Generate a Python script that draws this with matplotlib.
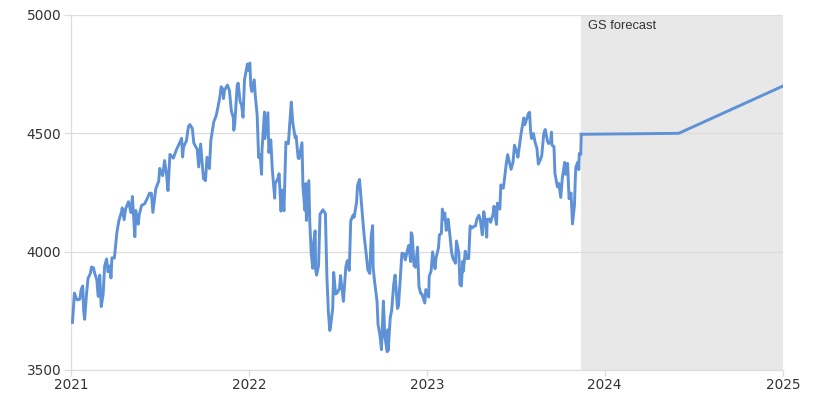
import matplotlib
matplotlib.use("Agg")
import matplotlib.pyplot as plt
import pandas as pd

# S&P 500 history
hist_dates = [
    "2021-01-04", "2021-01-08", "2021-01-12", "2021-01-14", "2021-01-19", "2021-01-22", "2021-01-25", "2021-01-27",
    "2021-01-29", "2021-02-02", "2021-02-05", "2021-02-10", "2021-02-12", "2021-02-16", "2021-02-19", "2021-02-23",
    "2021-02-25", "2021-02-26", "2021-03-01", "2021-03-04", "2021-03-08", "2021-03-11", "2021-03-15", "2021-03-18",
    "2021-03-22", "2021-03-24", "2021-03-26", "2021-03-31", "2021-04-05", "2021-04-09", "2021-04-15", "2021-04-16",
    "2021-04-20", "2021-04-23", "2021-04-29", "2021-05-04", "2021-05-07", "2021-05-12", "2021-05-14", "2021-05-19",
    "2021-05-21", "2021-05-26", "2021-06-01", "2021-06-07", "2021-06-11", "2021-06-15", "2021-06-18", "2021-06-24",
    "2021-06-30", "2021-07-02", "2021-07-08", "2021-07-12", "2021-07-16", "2021-07-19", "2021-07-23", "2021-07-27",
    "2021-07-30", "2021-08-05", "2021-08-12", "2021-08-16", "2021-08-18", "2021-08-20", "2021-08-26", "2021-08-30",
    "2021-09-02", "2021-09-07", "2021-09-10", "2021-09-14", "2021-09-17", "2021-09-20", "2021-09-24", "2021-09-28",
    "2021-09-30", "2021-10-04", "2021-10-07", "2021-10-12", "2021-10-15", "2021-10-21", "2021-10-26", "2021-10-29",
    "2021-11-03", "2021-11-05", "2021-11-09", "2021-11-10", "2021-11-12", "2021-11-18", "2021-11-22", "2021-11-26",
    "2021-11-30", "2021-12-01", "2021-12-03", "2021-12-08", "2021-12-10", "2021-12-14", "2021-12-17", "2021-12-20",
    "2021-12-23", "2021-12-29", "2021-12-31",
    "2022-01-03", "2022-01-05", "2022-01-07", "2022-01-12", "2022-01-14", "2022-01-18", "2022-01-21", "2022-01-24",
    "2022-01-27", "2022-01-28", "2022-02-02", "2022-02-03", "2022-02-09", "2022-02-11", "2022-02-15", "2022-02-18",
    "2022-02-23", "2022-02-24", "2022-03-01", "2022-03-04", "2022-03-08", "2022-03-10", "2022-03-14", "2022-03-18",
    "2022-03-23", "2022-03-29", "2022-04-01", "2022-04-06", "2022-04-08", "2022-04-12", "2022-04-14", "2022-04-20",
    "2022-04-22", "2022-04-26", "2022-04-28", "2022-04-29", "2022-05-04", "2022-05-06", "2022-05-09", "2022-05-12",
    "2022-05-13", "2022-05-17", "2022-05-18", "2022-05-20", "2022-05-24", "2022-05-27", "2022-06-02", "2022-06-07",
    "2022-06-10", "2022-06-13", "2022-06-16", "2022-06-17", "2022-06-22", "2022-06-24", "2022-06-28", "2022-07-01",
    "2022-07-06", "2022-07-08", "2022-07-14", "2022-07-19", "2022-07-22", "2022-07-26", "2022-07-29", "2022-08-03",
    "2022-08-05", "2022-08-10", "2022-08-12", "2022-08-16", "2022-08-19", "2022-08-23", "2022-08-26", "2022-08-30",
    "2022-09-02", "2022-09-06", "2022-09-09", "2022-09-12", "2022-09-13", "2022-09-16", "2022-09-21", "2022-09-23",
    "2022-09-27", "2022-09-30", "2022-10-04", "2022-10-07", "2022-10-12", "2022-10-13", "2022-10-14", "2022-10-18",
    "2022-10-21", "2022-10-25", "2022-10-28", "2022-11-02", "2022-11-04", "2022-11-10", "2022-11-11", "2022-11-15",
    "2022-11-18", "2022-11-22", "2022-11-25", "2022-11-29", "2022-11-30", "2022-12-02", "2022-12-06", "2022-12-09",
    "2022-12-13", "2022-12-16", "2022-12-20", "2022-12-22", "2022-12-28", "2022-12-30",
    "2023-01-05", "2023-01-06", "2023-01-10", "2023-01-13", "2023-01-18", "2023-01-20", "2023-01-25", "2023-01-27",
    "2023-01-31", "2023-02-02", "2023-02-03", "2023-02-07", "2023-02-10", "2023-02-14", "2023-02-17", "2023-02-21",
    "2023-02-24", "2023-03-01", "2023-03-03", "2023-03-08", "2023-03-10", "2023-03-13", "2023-03-16", "2023-03-17",
    "2023-03-21", "2023-03-24", "2023-03-28", "2023-03-31", "2023-04-04", "2023-04-06", "2023-04-11", "2023-04-14",
    "2023-04-18", "2023-04-21", "2023-04-25", "2023-04-28", "2023-05-02", "2023-05-04", "2023-05-05", "2023-05-10",
    "2023-05-12", "2023-05-17", "2023-05-19", "2023-05-24", "2023-05-26", "2023-05-31", "2023-06-02", "2023-06-07",
    "2023-06-09", "2023-06-13", "2023-06-16", "2023-06-21", "2023-06-23", "2023-06-27", "2023-06-30", "2023-07-06",
    "2023-07-07", "2023-07-12", "2023-07-14", "2023-07-19", "2023-07-21", "2023-07-26", "2023-07-28", "2023-07-31",
    "2023-08-02", "2023-08-04", "2023-08-08", "2023-08-11", "2023-08-15", "2023-08-18", "2023-08-22", "2023-08-25",
    "2023-08-29", "2023-09-01", "2023-09-06", "2023-09-08", "2023-09-12", "2023-09-14", "2023-09-15", "2023-09-19",
    "2023-09-21", "2023-09-22", "2023-09-26", "2023-09-29", "2023-10-03", "2023-10-06", "2023-10-11", "2023-10-13",
    "2023-10-17", "2023-10-20", "2023-10-24", "2023-10-27", "2023-10-31", "2023-11-02", "2023-11-03", "2023-11-07",
    "2023-11-09", "2023-11-10", "2023-11-13", "2023-11-14",
]
hist_values = [
    3701, 3825, 3801, 3796, 3799, 3841, 3855, 3751,
    3714, 3826, 3887, 3910, 3935, 3932, 3906, 3881,
    3829, 3811, 3901, 3768, 3821, 3939, 3969, 3915,
    3940, 3889, 3974, 3973, 4078, 4129, 4171, 4185,
    4135, 4180, 4211, 4165, 4233, 4063, 4174, 4116,
    4156, 4196, 4202, 4227, 4247, 4247, 4166, 4266,
    4298, 4352, 4321, 4385, 4327, 4258, 4411, 4402,
    4395, 4429, 4460, 4479, 4400, 4442, 4470, 4529,
    4537, 4520, 4459, 4443, 4433, 4358, 4455, 4353,
    4308, 4300, 4399, 4351, 4471, 4549, 4575, 4605,
    4660, 4697, 4686, 4647, 4682, 4704, 4682, 4595,
    4567, 4513, 4538, 4701, 4712, 4634, 4620, 4568,
    4726, 4793, 4766,
    4797, 4700, 4677, 4726, 4663, 4577, 4398, 4410,
    4327, 4432, 4590, 4478, 4587, 4419, 4472, 4349,
    4226, 4289, 4306, 4329, 4171, 4260, 4173, 4463,
    4456, 4632, 4546, 4481, 4488, 4397, 4393, 4460,
    4272, 4175, 4288, 4132, 4300, 4123, 3991, 3930,
    4024, 4088, 3923, 3901, 3941, 4158, 4177, 4161,
    3901, 3750, 3667, 3675, 3760, 3912, 3821, 3825,
    3845, 3899, 3790, 3937, 3962, 3921, 4130, 4155,
    4145, 4210, 4280, 4305, 4228, 4128, 4058, 3986,
    3924, 3908, 4067, 4110, 3932, 3873, 3790, 3693,
    3647, 3586, 3791, 3640, 3577, 3670, 3583, 3720,
    3752, 3859, 3901, 3760, 3771, 3957, 3993, 3992,
    3965, 4004, 4026, 3958, 4080, 4072, 3941, 3934,
    4019, 3852, 3822, 3822, 3783, 3840,
    3808, 3895, 3919, 3999, 3928, 3973, 4016, 4071,
    4077, 4180, 4136, 4164, 4090, 4137, 4079, 3997,
    3970, 3951, 4045, 3992, 3862, 3855, 3960, 3917,
    4002, 3971, 3971, 4109, 4100, 4105, 4109, 4138,
    4154, 4133, 4071, 4169, 4119, 4061, 4136, 4138,
    4124, 4158, 4192, 4115, 4205, 4180, 4282, 4268,
    4299, 4369, 4410, 4366, 4348, 4378, 4450, 4411,
    4399, 4473, 4505, 4565, 4536, 4566, 4582, 4589,
    4513, 4478, 4499, 4464, 4437, 4370, 4388, 4406,
    4497, 4516, 4465, 4457, 4462, 4505, 4450, 4444,
    4330, 4320, 4274, 4288, 4229, 4308, 4377, 4327,
    4373, 4224, 4248, 4117, 4194, 4318, 4358, 4378,
    4347, 4415, 4411, 4496,
]

# GS forecast path
fc_dates = ["2023-11-14", "2024-06-01", "2025-01-01"]
fc_values = [4496, 4500, 4700]
fc_start = "2023-11-14"

y_ticks = [3500, 4000, 4500, 5000]
x_years = ["2021", "2022", "2023", "2024", "2025"]

line_color = "#5F91D6"
text_color = "#333333"
grid_color = "#DDDDDD"

plt.rcParams["font.family"] = ["DejaVu Sans"]

fig = plt.figure(figsize=(8.22, 4.05), dpi=100)
ax = fig.add_axes([71 / 822, 1 - 370 / 405, 712 / 822, 355 / 405])

x_min = pd.Timestamp("2021-01-01")
x_max = pd.Timestamp("2025-01-01")

# shaded forecast window
ax.axvspan(pd.Timestamp(fc_start), x_max, color="#E8E8E8", lw=0, zorder=0)

ax.plot(pd.to_datetime(hist_dates), hist_values, color=line_color, lw=2.1,
        solid_joinstyle="round", zorder=3)
ax.plot(pd.to_datetime(fc_dates), fc_values, color=line_color, lw=2.1, zorder=3)

ax.text(pd.Timestamp(fc_start) + pd.Timedelta(days=14), 4952, "GS forecast",
        fontsize=9.3, color=text_color, va="center", ha="left",
        family=["Liberation Sans", "DejaVu Sans"])

ax.set_xlim(x_min, x_max)
ax.set_ylim(3500, 5000)
ax.set_yticks(y_ticks)
ax.set_yticklabels([str(v) for v in y_ticks])
ax.set_xticks([pd.Timestamp(y + "-01-01") for y in x_years])
ax.set_xticklabels(x_years)

ax.grid(axis="y", color=grid_color, lw=0.9, zorder=1)
ax.set_axisbelow(True)

for side in ["top", "right"]:
    ax.spines[side].set_visible(False)
for side in ["left", "bottom"]:
    ax.spines[side].set_color(grid_color)
    ax.spines[side].set_linewidth(0.9)

ax.tick_params(axis="both", colors=grid_color, length=5, width=0.9,
               labelcolor=text_color, labelsize=9.8)
ax.tick_params(axis="y", pad=2)
ax.tick_params(axis="x", length=4, pad=2)

fig.savefig("out.png", dpi=100)
